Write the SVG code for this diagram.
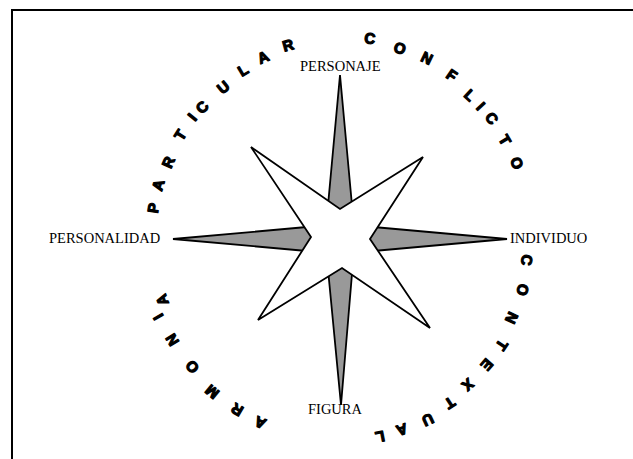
<svg xmlns="http://www.w3.org/2000/svg" width="633" height="459" viewBox="0 0 633 459">
<style>
.lbl{font-family:"Liberation Serif","Times New Roman",serif;font-size:14.5px;fill:#000}
.arc{font-family:"Liberation Sans",Arial,sans-serif;font-size:15px;font-weight:bold;fill:#000;stroke:#000;stroke-width:1.2;stroke-linejoin:round;text-anchor:middle;dominant-baseline:central}
.spike{fill:#999;stroke:#000;stroke-width:1.8;stroke-linejoin:miter}
.star{fill:#fff;stroke:#000;stroke-width:1.8;stroke-linejoin:miter}
</style>
<rect x="0" y="0" width="633" height="459" fill="#fff"/>
<g id="frame"><rect x="12" y="10" width="700" height="520" fill="none" stroke="#000" stroke-width="2"/></g>
<g id="compass">
<polygon class="spike" points="340,75 355,238 341,405 325,238"/>
<polygon class="spike" points="173,239 340,224 507,239 340,254"/>
<polygon class="star" points="251,147 340,209 423,157 370,239 430,328 342,268 258,320 311,237"/>
</g>
<g id="connectors"></g>
<g id="node-personaje"><text class="lbl" x="300" y="71">PERSONAJE</text></g>
<g id="node-personalidad"><text class="lbl" x="49" y="243">PERSONALIDAD</text></g>
<g id="node-individuo"><text class="lbl" x="510" y="243">INDIVIDUO</text></g>
<g id="node-figura"><text class="lbl" x="308" y="414">FIGURA</text></g>
<g id="arc-particular">
<text class="arc" transform="translate(153,208) rotate(-81.2)">P</text>
<text class="arc" transform="translate(158,185) rotate(-74.1)">A</text>
<text class="arc" transform="translate(168,162) rotate(-66.6)">R</text>
<text class="arc" transform="translate(180,135) rotate(-57.6)">T</text>
<text class="arc" transform="translate(192,117) rotate(-51.1)">I</text>
<text class="arc" transform="translate(202,107) rotate(-46.9)">C</text>
<text class="arc" transform="translate(223,87) rotate(-38.2)">U</text>
<text class="arc" transform="translate(243,70) rotate(-30.4)">L</text>
<text class="arc" transform="translate(263,57) rotate(-23.4)">A</text>
<text class="arc" transform="translate(288,45) rotate(-15.4)">R</text>
</g>
<g id="arc-conflicto">
<text class="arc" transform="translate(370,38) rotate(8.3)">C</text>
<text class="arc" transform="translate(400,48) rotate(17.3)">O</text>
<text class="arc" transform="translate(427,58) rotate(25.7)">N</text>
<text class="arc" transform="translate(452,75) rotate(34.4)">F</text>
<text class="arc" transform="translate(470,95) rotate(42.3)">L</text>
<text class="arc" transform="translate(481,106) rotate(46.9)">I</text>
<text class="arc" transform="translate(492,118) rotate(51.8)">C</text>
<text class="arc" transform="translate(505,140) rotate(59.4)">T</text>
<text class="arc" transform="translate(517,163) rotate(67.2)">O</text>
</g>
<g id="arc-contextual">
<text class="arc" transform="translate(527,260) rotate(97)">C</text>
<text class="arc" transform="translate(523,290) rotate(106.3)">O</text>
<text class="arc" transform="translate(512,318) rotate(115.3)">N</text>
<text class="arc" transform="translate(502,345) rotate(123.9)">T</text>
<text class="arc" transform="translate(487,365) rotate(131.2)">E</text>
<text class="arc" transform="translate(468,385) rotate(139.4)">X</text>
<text class="arc" transform="translate(450,403) rotate(146.7)">T</text>
<text class="arc" transform="translate(428,420) rotate(154.6)">U</text>
<text class="arc" transform="translate(402,430) rotate(162.5)">A</text>
<text class="arc" transform="translate(380,437) rotate(169)">L</text>
</g>
<g id="arc-armonia">
<text class="arc" transform="translate(260,423) rotate(203.5)">A</text>
<text class="arc" transform="translate(237,410) rotate(211)">R</text>
<text class="arc" transform="translate(212,392) rotate(219.8)">M</text>
<text class="arc" transform="translate(192,367) rotate(228.9)">O</text>
<text class="arc" transform="translate(172,340) rotate(238.6)">N</text>
<text class="arc" transform="translate(158,317) rotate(240)">I</text>
<text class="arc" transform="translate(162,300) rotate(250.3)">A</text>
</g>
</svg>
